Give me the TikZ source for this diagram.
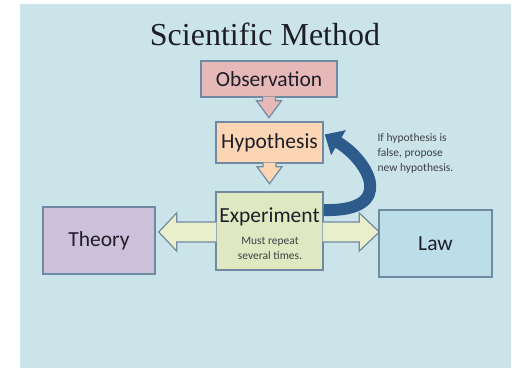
\documentclass[tikz,border=0pt]{standalone}
\usepackage{fontspec}
\setmainfont{Carlito}
\newfontfamily\titlefont{Liberation Serif}
\usepackage{tikz}
\usepackage{xcolor}
\usetikzlibrary{positioning, arrows.meta, calc}

\definecolor{slidebg}{HTML}{CBE4E9}
\definecolor{edge}{HTML}{6F8AA2}
\definecolor{obsfill}{HTML}{E6B9B8}
\definecolor{hypfill}{HTML}{FCD5B5}
\definecolor{expfill}{HTML}{DFE8C1}
\definecolor{arrfill}{HTML}{E9EFCA}
\definecolor{thyfill}{HTML}{CCC0DA}
\definecolor{lawfill}{HTML}{BCDEE8}
\definecolor{loopblue}{HTML}{2D5B8C}
\definecolor{ink}{HTML}{1E1E28}

\tikzset{
  downarr/.pic={\path[pic actions] (-6.5,-1) -- (-6.5,3) -- (-12.5,3) -- (0,20) -- (12.5,3) -- (6.5,3) -- (6.5,-1);}
}

\begin{document}
\begin{tikzpicture}[
  x=1pt, y=-1pt,
  every node/.style={text=ink},
  box/.style={draw=edge, line width=1.4pt, inner sep=0pt},
  boxtxt/.style={font=\fontsize{21.5}{24}\selectfont},
  note/.style={font=\fontsize{11.5}{15}\selectfont, text=ink!85, align=center},
  blockarr/.style={draw=edge, line width=1.2pt, fill=arrfill, line join=miter},
  loopback/.style={draw=loopblue, line width=12pt, -{Triangle[length=16pt, width=28pt]}}
]
\useasboundingbox (0,0) rectangle (513,370);
% Slide background
\fill[slidebg] (20,4) rectangle (511,368);

% Title
\node[anchor=base, font=\titlefont\fontsize{32}{36}\selectfont] (title) at (265,45) {Scientific Method};

% Main column
\node[box, fill=obsfill, minimum width=136pt, minimum height=36pt] (obs) at (269,79) {};
\node[box, fill=hypfill, minimum width=107pt, minimum height=41pt] (hyp) at (269.5,142.5) {};
\node[box, fill=expfill, minimum width=107pt, minimum height=78pt] (exp) at (269.5,231) {};

% Side boxes
\node[box, fill=thyfill, minimum width=112pt, minimum height=67pt] (theory) at (99,240.5) {};
\node[box, fill=lawfill, minimum width=113pt, minimum height=67pt] (law) at (435.5,243.5) {};

% Down arrows
\pic[fill=obsfill, draw=edge, line width=1.2pt] at (obs.south) {downarr};
\pic[fill=hypfill, draw=edge, line width=1.2pt] at (hyp.south) {downarr};

% Arrow tips on both sides of Experiment
\coordinate (ltip) at ($(theory.east |- exp.center)+(3,1)$);
\coordinate (rtip) at ($(law.west |- exp.center)+(1,1)$);
\path[blockarr] ($(ltip -| exp.west)+(1,-10)$) -- ($(ltip)+(18,-10)$) -- ($(ltip)+(18,-19)$)
  -- (ltip) -- ($(ltip)+(18,19)$) -- ($(ltip)+(18,10)$) -- ($(ltip -| exp.west)+(1,10)$);
\path[blockarr] ($(rtip -| exp.east)+(-1,-10)$) -- ($(rtip)+(-20,-10)$) -- ($(rtip)+(-20,-19)$)
  -- (rtip) -- ($(rtip)+(-20,19)$) -- ($(rtip)+(-20,10)$) -- ($(rtip -| exp.east)+(-1,10)$);

% Back to Hypothesis
\draw[loopback] ($(exp.east)+(0,-21)$) .. controls ($(exp.east)+(74,-19)$) and ($(hyp.east)+(45,18)$) .. ($(hyp.east)+(1,-8)$);

% Texts
\node[boxtxt] (obstxt) at (obs.center) {Observation};
\node[boxtxt] (hyptxt) at (hyp.center) {Hypothesis};
\node[boxtxt] (exptxt) at (269.5,217) {Experiment};
\node[note] (expnote) at (270,248.5) {Must repeat\\several times.};
\node[boxtxt] (thytxt) at (theory.center) {Theory};
\node[boxtxt] (lawtxt) at (law.center) {Law};
\node[note, anchor=north west, align=left] (ifnote) at (374,130) {If hypothesis is\\false, propose\\new hypothesis.};

\end{tikzpicture}
\end{document}
